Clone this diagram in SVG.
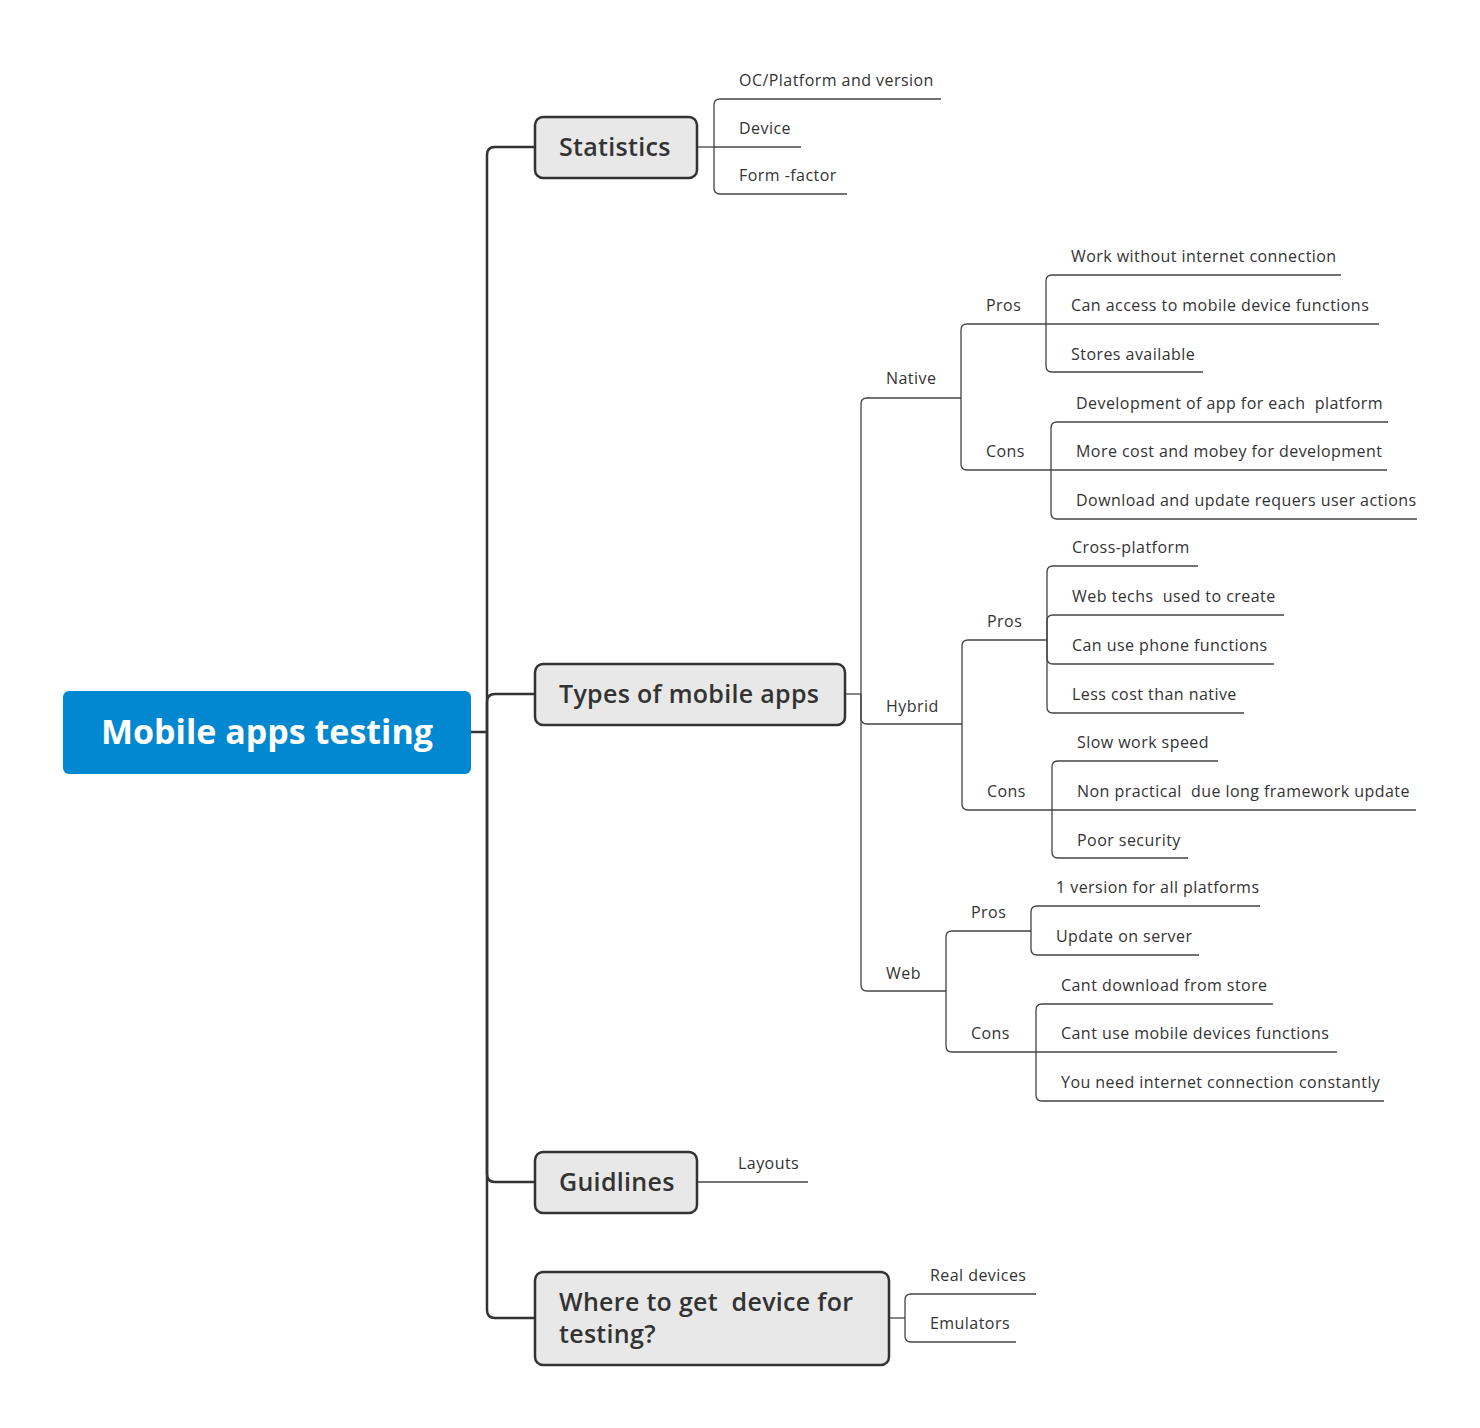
<svg xmlns="http://www.w3.org/2000/svg" width="1480" height="1428" viewBox="0 0 1480 1428">
<defs>
<style>
.bg{fill:#ffffff}
.main{fill:#e8e8e8;stroke:#333333;stroke-width:2.5}
.root{fill:#0288d1}
.t-root{font-family:"Open Sans",Lato,sans-serif;font-weight:bold;font-size:34px;fill:#ffffff}
.t-main{font-family:"Open Sans",Lato,sans-serif;font-weight:600;font-size:25px;letter-spacing:0.3px;fill:#333333}
.t-sub{font-family:"Open Sans",Lato,sans-serif;font-size:16px;letter-spacing:0.45px;fill:#333333}
.c-main{fill:none;stroke:#333333;stroke-width:2.5}
.c-sub{fill:none;stroke:#444444;stroke-width:1.3}
</style>
</defs>
<rect class="bg" x="0" y="0" width="1480" height="1428"/>
<g id="connectors">
  <path class="c-main" d="M471 732 H487"/>
  <path class="c-main" d="M487 732 V155 Q487 147 495 147 H535"/>
  <path class="c-main" d="M487 732 V702 Q487 694 495 694 H535"/>
  <path class="c-main" d="M487 732 V1174 Q487 1182 495 1182 H535"/>
  <path class="c-main" d="M487 732 V1310 Q487 1318 495 1318 H535"/>
  <!-- Statistics -->
  <path class="c-sub" d="M697 147 H714"/>
  <path class="c-sub" d="M714 147 V105 Q714 99 720 99 H941"/>
  <path class="c-sub" d="M714 147 H801"/>
  <path class="c-sub" d="M714 147 V188 Q714 194 720 194 H847"/>
  <!-- Types -->
  <path class="c-sub" d="M845 694 H861"/>
  <path class="c-sub" d="M861 694 V404 Q861 398 867 398 H961"/>
  <path class="c-sub" d="M861 694 V718 Q861 724 867 724 H962"/>
  <path class="c-sub" d="M861 694 V985 Q861 991 867 991 H946"/>
  <!-- Native -->
  <path class="c-sub" d="M961 398 V330 Q961 324 967 324 H1046"/>
  <path class="c-sub" d="M961 398 V464 Q961 470 967 470 H1051"/>
  <path class="c-sub" d="M1046 324 V281 Q1046 275 1052 275 H1341"/>
  <path class="c-sub" d="M1046 324 H1379"/>
  <path class="c-sub" d="M1046 324 V366 Q1046 372 1052 372 H1203"/>
  <path class="c-sub" d="M1051 470 V428 Q1051 422 1057 422 H1388"/>
  <path class="c-sub" d="M1051 470 H1387"/>
  <path class="c-sub" d="M1051 470 V513 Q1051 519 1057 519 H1417"/>
  <!-- Hybrid -->
  <path class="c-sub" d="M962 724 V646 Q962 640 968 640 H1047"/>
  <path class="c-sub" d="M962 724 V804 Q962 810 968 810 H1052"/>
  <path class="c-sub" d="M1047 640 V572 Q1047 566 1053 566 H1198"/>
  <path class="c-sub" d="M1047 640 V621 Q1047 615 1053 615 H1284"/>
  <path class="c-sub" d="M1047 640 V658 Q1047 664 1053 664 H1274"/>
  <path class="c-sub" d="M1047 640 V707 Q1047 713 1053 713 H1244"/>
  <path class="c-sub" d="M1052 810 V767 Q1052 761 1058 761 H1218"/>
  <path class="c-sub" d="M1052 810 H1416"/>
  <path class="c-sub" d="M1052 810 V852 Q1052 858 1058 858 H1188"/>
  <!-- Web -->
  <path class="c-sub" d="M946 991 V937 Q946 931 952 931 H1031"/>
  <path class="c-sub" d="M946 991 V1046 Q946 1052 952 1052 H1036"/>
  <path class="c-sub" d="M1031 931 V912 Q1031 906 1037 906 H1260"/>
  <path class="c-sub" d="M1031 931 V949 Q1031 955 1037 955 H1199"/>
  <path class="c-sub" d="M1036 1052 V1010 Q1036 1004 1042 1004 H1273"/>
  <path class="c-sub" d="M1036 1052 H1337"/>
  <path class="c-sub" d="M1036 1052 V1095 Q1036 1101 1042 1101 H1384"/>
  <!-- Guidlines -->
  <path class="c-sub" d="M697 1182 H808"/>
  <!-- Where -->
  <path class="c-sub" d="M889 1318 H905"/>
  <path class="c-sub" d="M905 1318 V1300 Q905 1294 911 1294 H1036"/>
  <path class="c-sub" d="M905 1318 V1336 Q905 1342 911 1342 H1016"/>
</g>
<g id="root">
  <rect class="root" x="63" y="691" width="408" height="83" rx="6"/>
  <text class="t-root" x="267" y="744" text-anchor="middle">Mobile apps testing</text>
</g>
<g id="statistics">
  <rect class="main" x="535" y="117" width="162" height="61" rx="8"/>
  <text class="t-main" x="559" y="156">Statistics</text>
</g>
<g id="stat-os"><text class="t-sub" x="739" y="86">OC/Platform and version</text></g>
<g id="stat-device"><text class="t-sub" x="739" y="134">Device</text></g>
<g id="stat-form"><text class="t-sub" x="739" y="181">Form -factor</text></g>
<g id="types">
  <rect class="main" x="535" y="664" width="310" height="61" rx="8"/>
  <text class="t-main" x="559" y="703">Types of mobile apps</text>
</g>
<g id="native"><text class="t-sub" x="886" y="384">Native</text></g>
<g id="native-pros"><text class="t-sub" x="986" y="311">Pros</text></g>
<g id="np1"><text class="t-sub" x="1071" y="262">Work without internet connection</text></g>
<g id="np2"><text class="t-sub" x="1071" y="311">Can access to mobile device functions</text></g>
<g id="np3"><text class="t-sub" x="1071" y="360">Stores available</text></g>
<g id="native-cons"><text class="t-sub" x="986" y="457">Cons</text></g>
<g id="nc1"><text class="t-sub" x="1076" y="409" xml:space="preserve">Development of app for each  platform</text></g>
<g id="nc2"><text class="t-sub" x="1076" y="457">More cost and mobey for development</text></g>
<g id="nc3"><text class="t-sub" x="1076" y="506">Download and update requers user actions</text></g>
<g id="hybrid"><text class="t-sub" x="886" y="712">Hybrid</text></g>
<g id="hybrid-pros"><text class="t-sub" x="987" y="627">Pros</text></g>
<g id="hp1"><text class="t-sub" x="1072" y="553">Cross-platform</text></g>
<g id="hp2"><text class="t-sub" x="1072" y="602" xml:space="preserve">Web techs  used to create</text></g>
<g id="hp3"><text class="t-sub" x="1072" y="651">Can use phone functions</text></g>
<g id="hp4"><text class="t-sub" x="1072" y="700">Less cost than native</text></g>
<g id="hybrid-cons"><text class="t-sub" x="987" y="797">Cons</text></g>
<g id="hc1"><text class="t-sub" x="1077" y="748">Slow work speed</text></g>
<g id="hc2"><text class="t-sub" x="1077" y="797" xml:space="preserve">Non practical  due long framework update</text></g>
<g id="hc3"><text class="t-sub" x="1077" y="846">Poor security</text></g>
<g id="web"><text class="t-sub" x="886" y="979">Web</text></g>
<g id="web-pros"><text class="t-sub" x="971" y="918">Pros</text></g>
<g id="wp1"><text class="t-sub" x="1056" y="893">1 version for all platforms</text></g>
<g id="wp2"><text class="t-sub" x="1056" y="942">Update on server</text></g>
<g id="web-cons"><text class="t-sub" x="971" y="1039">Cons</text></g>
<g id="wc1"><text class="t-sub" x="1061" y="991">Cant download from store</text></g>
<g id="wc2"><text class="t-sub" x="1061" y="1039">Cant use mobile devices functions</text></g>
<g id="wc3"><text class="t-sub" x="1061" y="1088">You need internet connection constantly</text></g>
<g id="guidlines">
  <rect class="main" x="535" y="1152" width="162" height="61" rx="8"/>
  <text class="t-main" x="559" y="1191">Guidlines</text>
</g>
<g id="layouts"><text class="t-sub" x="738" y="1169">Layouts</text></g>
<g id="where">
  <rect class="main" x="535" y="1272" width="354" height="93" rx="8"/>
  <text class="t-main" x="559" y="1311" xml:space="preserve">Where to get  device for</text>
  <text class="t-main" x="559" y="1343">testing?</text>
</g>
<g id="real"><text class="t-sub" x="930" y="1281">Real devices</text></g>
<g id="emul"><text class="t-sub" x="930" y="1329">Emulators</text></g>
</svg>
